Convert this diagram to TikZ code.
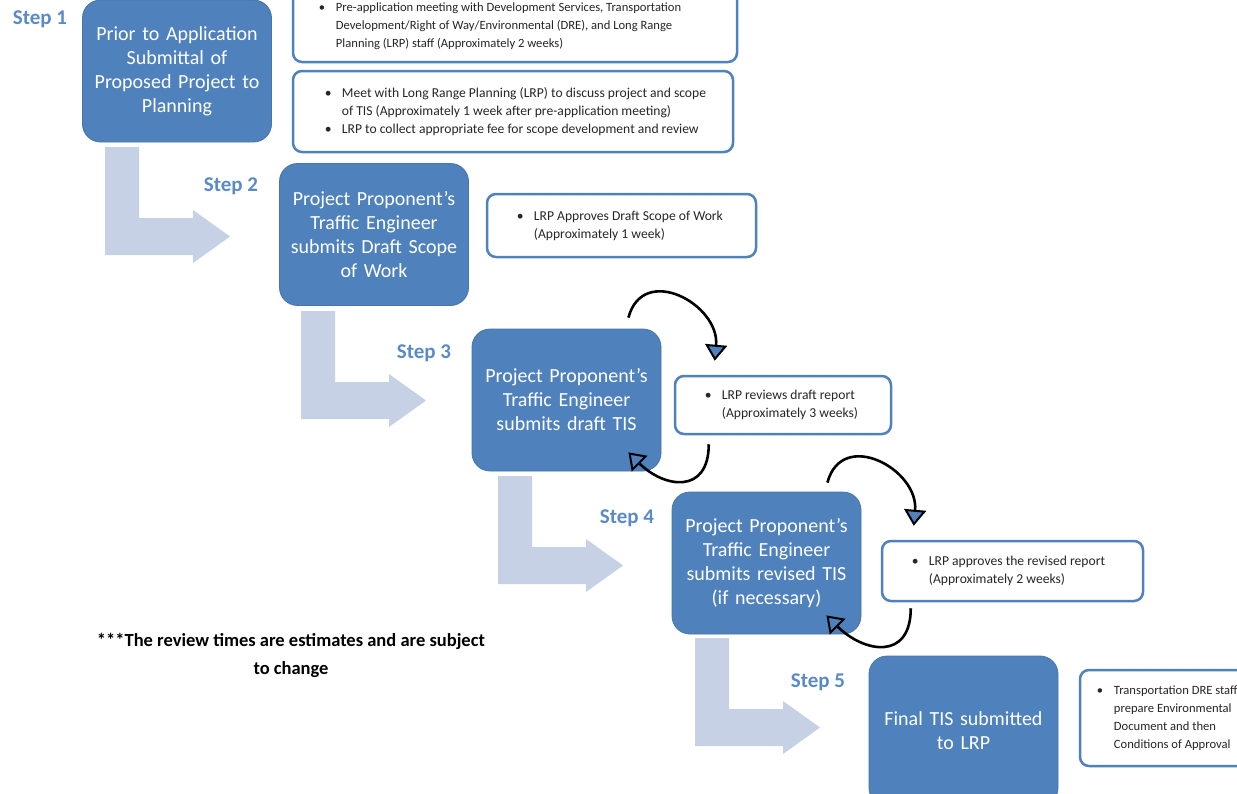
\documentclass[tikz,border=0pt]{standalone}
\usepackage{fontspec}
\setmainfont{Carlito}
\usetikzlibrary{arrows.meta}
\definecolor{mainblue}{HTML}{4F81BD}
\definecolor{steptext}{HTML}{5A8AC8}
\definecolor{pathfill}{HTML}{C6D1E5}
\definecolor{notetext}{HTML}{262626}
\newcommand{\bul}{\makebox[17pt][l]{\textbullet}}
\newcommand{\ind}{\hspace*{17pt}}

\begin{document}
\begin{tikzpicture}[x=1pt,y=-1pt,
    stepbox/.style={fill=mainblue, draw=mainblue!90!black, line width=0.8pt, rounded corners=18pt,
      text=white, font=\fontsize{20}{24}\selectfont, align=center, text width=185pt,
      minimum width=189pt, minimum height=142pt, inner sep=0pt},
    notebox/.style={draw=mainblue, line width=2.5pt, fill=white, rounded corners=9pt, inner sep=0pt},
    notetxt/.style={anchor=west, align=left, inner sep=0pt, text=notetext, font=\fontsize{13.6}{18}\selectfont},
    smalltxt/.style={notetxt, font=\fontsize{12.6}{18}\selectfont},
    steplabel/.style={text=steptext, font=\bfseries\fontsize{21}{22}\selectfont},
    loopline/.style={line width=2.6pt, -{Triangle[length=16pt,width=22pt,fill=mainblue,line width=2pt]}}]
  \useasboundingbox (0,0) rectangle (1237,793);
  \clip (0,0) rectangle (1237,793);
  % light step arrows
  \foreach \x/\y in {105/147, 301/311, 498/476, 695/638}
    \fill[pathfill] (\x,\y) -- ++(34,0) -- ++(0,71) -- ++(54,0) -- ++(0,-8) -- ++(37,26.5)
      -- ++(-37,26.5) -- ++(0,-8) -- ++(-88,0) -- cycle;
  % main steps
  \node[stepbox] (b1) at (177,71) {Prior to Application\\ Submittal of\\ Proposed Project to\\ Planning};
  \node[stepbox] (b2) at (374,234.5) {Project Proponent’s\\ Traffic Engineer\\ submits Draft Scope\\ of Work};
  \node[stepbox] (b3) at (566.5,400) {Project Proponent’s\\ Traffic Engineer\\ submits draft TIS};
  \node[stepbox] (b4) at (766.5,563) {Project Proponent’s\\ Traffic Engineer\\ submits revised TIS\\ (if necessary)};
  \node[stepbox, minimum height=150pt] (b5) at (963.5,731) {Final TIS submitted\\ to LRP};
  \node[steplabel] (s1) at (40,19) {Step 1};
  \node[steplabel] (s2) at (231,186) {Step 2};
  \node[steplabel] (s3) at (424,353) {Step 3};
  \node[steplabel] (s4) at (627,518) {Step 4};
  \node[steplabel] (s5) at (818,682) {Step 5};
  % notes
  \node[notebox, minimum width=444pt, minimum height=72pt] (nA) at (515,26) {};
  \node[smalltxt] (tA) at ([xshift=27pt]nA.west) {\bul Pre-application meeting with Development Services, Transportation\\
    \ind Development/Right of Way/Environmental (DRE), and Long Range\\ \ind Planning (LRP) staff (Approximately 2 weeks)};
  \node[notebox, minimum width=440pt, minimum height=81pt] (nB) at (513,111.5) {};
  \node[notetxt] (tB) at ([xshift=33pt]nB.west) {\bul Meet with Long Range Planning (LRP) to discuss project and scope\\
    \ind of TIS (Approximately 1 week after pre-application meeting)\\ \bul LRP to collect appropriate fee for scope development and review};
  \node[notebox, minimum width=269pt, minimum height=63pt] (nC) at (621.5,225.5) {};
  \node[notetxt] (tC) at ([xshift=31pt]nC.west) {\bul LRP Approves Draft Scope of Work\\ \ind (Approximately 1 week)};
  \node[notebox, minimum width=216pt, minimum height=58pt] (nD) at (783,405) {};
  \node[notetxt] (tD) at ([xshift=31pt]nD.west) {\bul LRP reviews draft report\\ \ind (Approximately 3 weeks)};
  \node[notebox, minimum width=261pt, minimum height=60pt] (nE) at (1012.5,571) {};
  \node[notetxt] (tE) at ([xshift=31pt]nE.west) {\bul LRP approves the revised report\\ \ind (Approximately 2 weeks)};
  \node[notebox, minimum width=180pt, minimum height=96pt] (nF) at (1170,718) {};
  \node[smalltxt] (tF) at ([xshift=18pt]nF.west) {\bul Transportation DRE staff\\ \ind prepare Environmental\\ \ind Document and then\\ \ind Conditions of Approval};
  \node[font=\bfseries\fontsize{18.5}{28}\selectfont, align=center] (note) at (291,655)
    {***The review times are estimates and are subject\\ to change};
  % review loops
  \draw[loopline] ([xshift=-33pt,yshift=11pt]b3.north east) to[out=75,in=85,looseness=1.5] ([xshift=41pt,yshift=14pt]nD.north west);
  \draw[loopline] ([xshift=35pt,yshift=-9pt]nD.south west) to[out=-90,in=-45,looseness=1.6] ([xshift=-33pt,yshift=19pt]b3.south east);
  \draw[loopline] ([xshift=-34pt,yshift=9pt]b4.north east) to[out=75,in=85,looseness=1.5] ([xshift=33pt,yshift=14pt]nE.north west);
  \draw[loopline] ([xshift=30pt,yshift=-6pt]nE.south west) to[out=-90,in=-45,looseness=1.6] ([xshift=-35pt,yshift=19pt]b4.south east);
\end{tikzpicture}
\end{document}
